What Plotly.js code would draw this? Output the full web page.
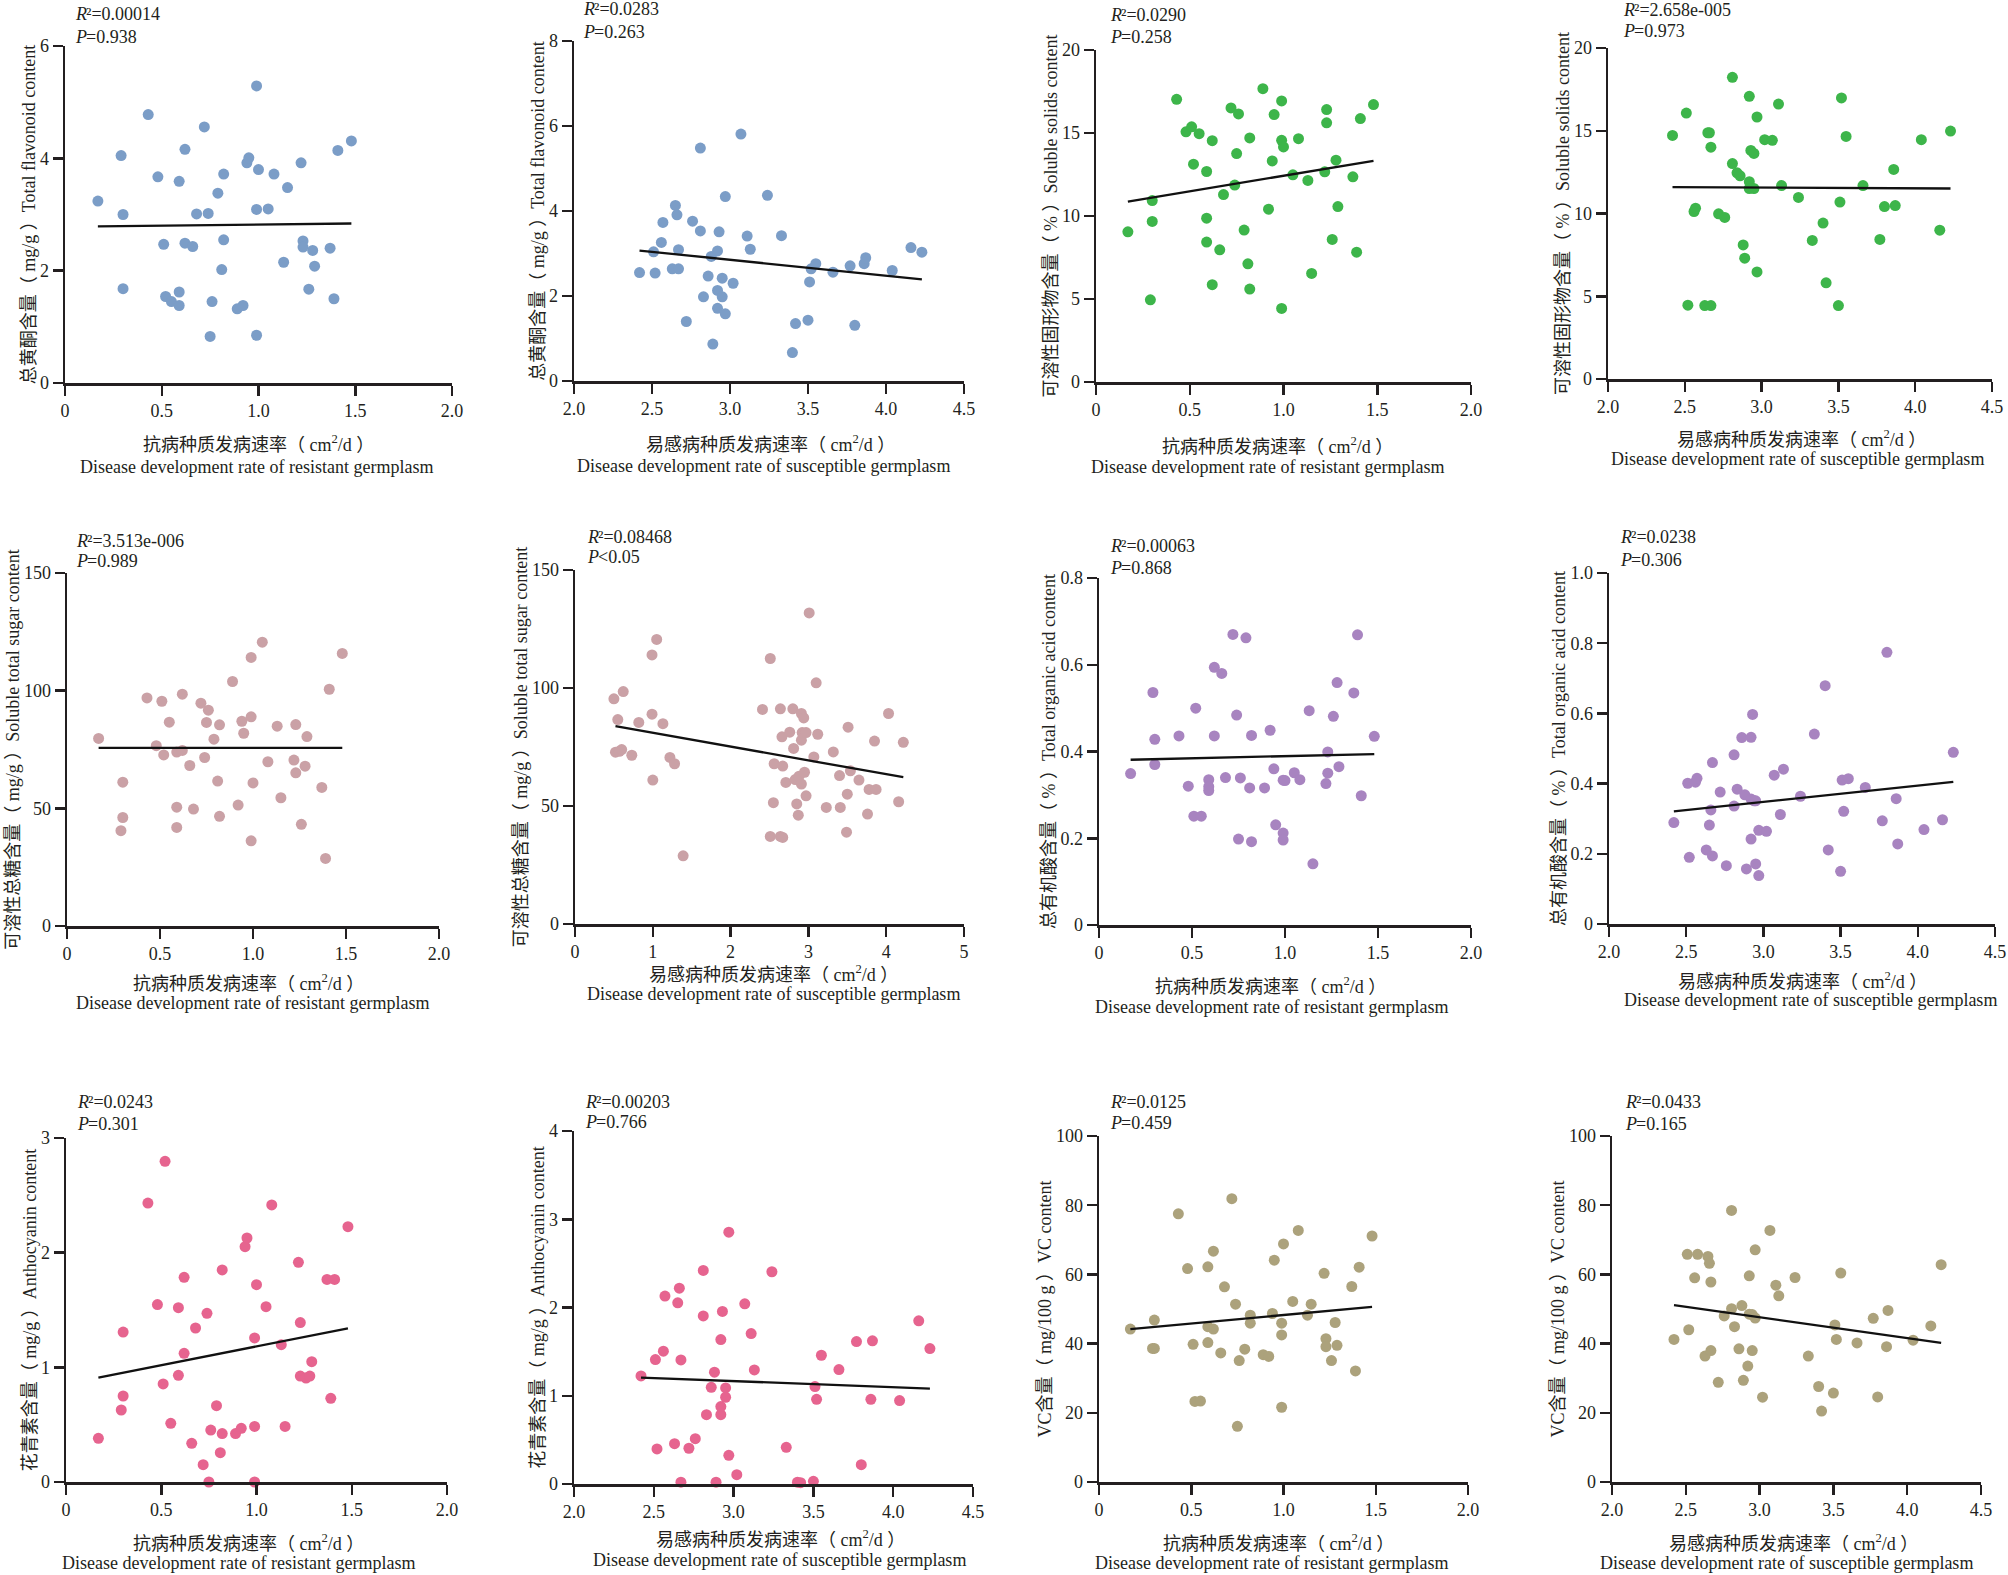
<!DOCTYPE html>
<html><head><meta charset="utf-8">
<script src="https://cdn.plot.ly/plotly-3.0.1.min.js"></script>
<style>html,body{margin:0;padding:0;background:#fff}</style>
</head><body><div id="chart" style="width:2008px;height:1575px"></div>
<script>
// ---------- data ----------
const resistTicks = [0, 0.5, 1, 1.5, 2];
const resistTickText = ["0", "0.5", "1.0", "1.5", "2.0"];
const suscTicks = [2, 2.5, 3, 3.5, 4, 4.5];
const suscTickText = ["2.0", "2.5", "3.0", "3.5", "4.0", "4.5"];
const sugarSuscTicks = [0, 1, 2, 3, 4, 5];
const sugarSuscTickText = ["0", "1", "2", "3", "4", "5"];

const flavTicks = [0, 2, 4, 6];
const flavSuscTicks = [0, 2, 4, 6, 8];
const solidTicks = [0, 5, 10, 15, 20];
const sugarTicks = [0, 50, 100, 150];
const acidTicks = [0, 0.2, 0.4, 0.6, 0.8];
const acidTickText = ["0", "0.2", "0.4", "0.6", "0.8"];
const acidSuscTicks = [0, 0.2, 0.4, 0.6, 0.8, 1.0];
const acidSuscTickText = ["0", "0.2", "0.4", "0.6", "0.8", "1.0"];
const anthoTicks = [0, 1, 2, 3];
const anthoSuscTicks = [0, 1, 2, 3, 4];
const vcTicks = [0, 20, 40, 60, 80, 100];

// Panel 1: flavonoid vs resistant
const p1x = [0.17,0.29,0.30,0.30,0.43,0.48,0.51,0.52,0.55,0.59,0.59,0.59,0.62,0.62,0.66,0.68,0.72,0.74,0.76,0.75,0.79,0.81,0.82,0.82,0.89,0.92,0.94,0.95,0.99,0.99,0.99,1.00,1.05,1.08,1.13,1.15,1.22,1.23,1.23,1.26,1.28,1.29,1.37,1.39,1.41,1.48];
const p1y = [3.24,4.05,3.00,1.68,4.78,3.67,2.47,1.54,1.45,3.59,1.62,1.38,4.16,2.49,2.43,3.01,4.56,3.02,1.45,0.83,3.38,2.02,3.72,2.55,1.32,1.38,3.92,4.01,5.29,3.09,0.85,3.80,3.10,3.72,2.15,3.48,3.92,2.53,2.42,1.67,2.36,2.08,2.40,1.50,4.14,4.31];
const fit1x = [0.17, 1.48];
const fit1y = [2.79, 2.84];

// Panel 2: flavonoid vs susceptible
const p2x = [2.42,2.51,2.52,2.57,2.56,2.63,2.65,2.66,2.67,2.67,2.72,2.76,2.81,2.81,2.83,2.86,2.88,2.89,2.92,2.92,2.92,2.93,2.95,2.95,2.97,2.97,3.02,3.07,3.11,3.13,3.24,3.33,3.40,3.42,3.50,3.51,3.52,3.55,3.66,3.77,3.80,3.86,3.87,4.04,4.16,4.23];
const p2y = [2.55,3.04,2.54,3.73,3.26,2.64,4.13,3.91,3.09,2.64,1.40,3.76,5.48,3.53,1.98,2.47,2.93,0.87,3.06,2.13,1.71,3.51,2.42,1.98,4.34,1.58,2.30,5.81,3.41,3.10,4.37,3.42,0.67,1.35,1.43,2.33,2.64,2.76,2.56,2.71,1.31,2.76,2.90,2.60,3.14,3.03];
const fit2x = [2.42, 4.23];
const fit2y = [3.07, 2.39];

// Panel 3: soluble solids vs resistant
const p3x = [0.17,0.29,0.30,0.30,0.43,0.48,0.51,0.52,0.55,0.59,0.59,0.59,0.62,0.62,0.66,0.68,0.72,0.74,0.75,0.76,0.79,0.81,0.82,0.82,0.89,0.92,0.94,0.95,0.99,0.99,0.99,1.00,1.05,1.08,1.13,1.15,1.22,1.23,1.23,1.26,1.28,1.29,1.37,1.39,1.41,1.48];
const p3y = [9.05,4.95,10.93,9.67,17.03,15.07,15.37,13.12,14.96,12.68,9.87,8.43,14.54,5.86,7.96,11.29,16.51,11.86,13.76,16.15,9.15,7.12,14.70,5.60,17.67,10.41,13.32,16.11,16.93,14.56,4.43,14.16,12.48,14.66,12.14,6.54,12.66,16.41,15.61,8.59,13.36,10.57,12.36,7.82,15.87,16.71];
const fit3x = [0.17, 1.48];
const fit3y = [10.87, 13.32];

// Panel 4: soluble solids vs susceptible
const p4x = [2.42,2.51,2.52,2.56,2.57,2.63,2.65,2.66,2.67,2.67,2.72,2.76,2.81,2.81,2.84,2.86,2.88,2.89,2.92,2.92,2.92,2.93,2.95,2.95,2.97,2.97,3.02,3.07,3.11,3.13,3.24,3.33,3.40,3.42,3.50,3.51,3.52,3.55,3.66,3.77,3.80,3.86,3.87,4.04,4.16,4.23];
const p4y = [14.72,16.07,4.46,10.12,10.32,4.44,14.88,14.88,14.01,4.44,9.98,9.76,13.02,18.23,12.46,12.28,8.10,7.30,17.08,11.92,11.51,13.81,13.63,11.51,15.83,6.47,14.46,14.42,16.61,11.69,10.97,8.37,9.42,5.81,4.44,10.69,16.98,14.66,11.69,8.43,10.42,12.66,10.48,14.46,8.99,14.98];
const fit4x = [2.42, 4.23];
const fit4y = [11.59, 11.51];

// Panel 5: soluble total sugar vs resistant
const p5x = [0.17,0.29,0.30,0.30,0.43,0.48,0.51,0.52,0.55,0.59,0.59,0.59,0.62,0.62,0.66,0.68,0.72,0.74,0.75,0.76,0.79,0.81,0.82,0.82,0.89,0.92,0.94,0.95,0.99,0.99,0.99,1.00,1.05,1.08,1.13,1.15,1.22,1.23,1.23,1.26,1.28,1.29,1.37,1.39,1.41,1.48];
const p5y = [79.7,40.5,61.1,46.1,96.9,76.6,95.5,72.7,86.6,73.9,50.5,41.9,98.5,74.6,68.2,49.7,94.7,71.6,86.5,91.7,79.4,61.6,85.5,46.6,103.9,51.4,87.0,81.9,114.1,88.9,36.2,60.8,120.6,69.8,84.9,54.5,70.5,65.1,85.6,43.2,67.9,80.5,58.9,28.7,100.6,115.8];
const fit5x = [0.17, 1.48];
const fit5y = [75.7, 75.7];

// Panel 6: soluble total sugar vs susceptible
const p6x = [0.50,0.52,0.55,0.57,0.60,0.62,0.73,0.82,0.99,0.99,1.00,1.05,1.13,1.22,1.28,1.39,2.41,2.51,2.55,2.56,2.51,2.64,2.64,2.66,2.67,2.67,2.71,2.76,2.80,2.81,2.83,2.85,2.87,2.88,2.91,2.91,2.91,2.92,2.94,2.95,2.97,2.97,3.01,3.07,3.10,3.12,3.23,3.32,3.40,3.41,3.49,3.50,3.51,3.54,3.65,3.78,3.76,3.85,3.87,4.03,4.16,4.22];
const p6y = [95.4,72.8,86.6,73.2,73.9,98.5,71.5,85.4,114.0,88.9,61.0,120.6,84.9,70.6,67.9,28.9,90.9,112.5,51.4,67.9,37.1,37.1,91.2,79.3,66.9,36.7,60.0,81.3,91.2,74.4,61.2,50.9,46.1,62.6,89.2,77.9,59.3,81.1,87.3,64.3,54.3,81.1,131.8,70.8,102.2,80.4,49.4,72.9,62.9,49.4,38.9,55.0,83.4,64.9,61.0,57.0,46.6,77.5,57.0,89.2,51.8,77.0];
const fit6x = [0.52, 4.22];
const fit6y = [83.8, 62.2];

// Panel 7: total organic acid vs resistant
const p7x = [0.17,0.29,0.30,0.30,0.43,0.48,0.51,0.52,0.55,0.59,0.59,0.59,0.62,0.62,0.66,0.68,0.72,0.74,0.76,0.75,0.79,0.81,0.82,0.82,0.89,0.92,0.94,0.95,0.99,0.99,0.99,1.00,1.05,1.08,1.13,1.15,1.22,1.23,1.23,1.26,1.28,1.29,1.37,1.39,1.41,1.48];
const p7y = [0.349,0.536,0.428,0.370,0.436,0.320,0.251,0.500,0.251,0.335,0.319,0.310,0.594,0.436,0.580,0.340,0.670,0.484,0.339,0.198,0.662,0.316,0.437,0.192,0.316,0.449,0.360,0.231,0.334,0.212,0.196,0.333,0.351,0.335,0.494,0.141,0.326,0.350,0.399,0.481,0.559,0.365,0.535,0.669,0.298,0.435];
const fit7x = [0.17, 1.48];
const fit7y = [0.381, 0.394];

// Panel 8: total organic acid vs susceptible
const p8x = [2.42,2.51,2.52,2.56,2.57,2.63,2.65,2.66,2.67,2.67,2.72,2.76,2.81,2.81,2.83,2.86,2.88,2.89,2.92,2.92,2.92,2.93,2.94,2.95,2.95,2.97,2.97,3.02,3.07,3.11,3.13,3.24,3.33,3.40,3.42,3.50,3.51,3.52,3.55,3.66,3.77,3.80,3.86,3.87,4.04,4.16,4.23];
const p8y = [0.289,0.401,0.190,0.404,0.415,0.211,0.282,0.325,0.460,0.194,0.376,0.166,0.482,0.336,0.384,0.531,0.368,0.157,0.242,0.356,0.532,0.597,0.351,0.351,0.171,0.267,0.138,0.264,0.424,0.312,0.441,0.364,0.541,0.679,0.211,0.150,0.410,0.321,0.414,0.389,0.294,0.774,0.357,0.228,0.269,0.297,0.489];
const fit8x = [2.42, 4.23];
const fit8y = [0.321, 0.405];

// Panel 9: anthocyanin vs resistant
const p9x = [0.17,0.29,0.30,0.30,0.43,0.48,0.51,0.52,0.55,0.59,0.59,0.62,0.62,0.66,0.68,0.72,0.74,0.75,0.76,0.79,0.81,0.82,0.82,0.89,0.92,0.94,0.95,0.99,0.99,0.99,1.00,1.05,1.08,1.13,1.15,1.22,1.23,1.23,1.26,1.28,1.29,1.37,1.39,1.41,1.48];
const p9y = [0.381,0.628,0.750,1.308,2.433,1.547,0.855,2.797,0.512,1.520,0.930,1.785,1.122,0.337,1.343,0.151,1.471,0.0,0.453,0.666,0.256,1.849,0.422,0.422,0.468,2.052,2.128,1.256,0.485,0.0,1.721,1.529,2.416,1.198,0.485,1.916,1.390,0.924,0.907,0.924,1.049,1.767,0.730,1.767,2.227];
const fit9x = [0.17, 1.48];
const fit9y = [0.91, 1.34];

// Panel 10: anthocyanin vs susceptible
const p10x = [2.42,2.51,2.52,2.56,2.57,2.63,2.65,2.66,2.67,2.67,2.72,2.76,2.81,2.81,2.83,2.86,2.88,2.89,2.92,2.92,2.92,2.93,2.95,2.95,2.97,2.97,3.02,3.07,3.11,3.13,3.24,3.33,3.40,3.42,3.50,3.51,3.52,3.55,3.66,3.77,3.80,3.86,3.87,4.04,4.16,4.23];
const p10y = [1.225,1.410,0.397,1.505,2.129,0.457,2.053,2.219,1.406,0.02,0.405,0.514,2.420,1.905,0.786,1.096,1.267,0.02,1.637,0.786,0.877,1.955,1.089,0.983,2.854,0.325,0.106,2.042,1.705,1.293,2.405,0.416,0.02,0.015,0.03,1.104,0.960,1.459,1.297,1.614,0.219,0.960,1.622,0.945,1.849,1.535];
const fit10x = [2.42, 4.23];
const fit10y = [1.206, 1.081];

// Panel 11: VC vs resistant
const p11x = [0.17,0.29,0.30,0.30,0.43,0.48,0.51,0.52,0.55,0.59,0.59,0.59,0.62,0.62,0.66,0.68,0.72,0.74,0.75,0.76,0.79,0.82,0.82,0.89,0.92,0.94,0.95,0.99,0.99,0.99,1.00,1.05,1.08,1.13,1.15,1.22,1.23,1.23,1.26,1.28,1.29,1.37,1.39,1.41,1.48];
const p11y = [44.2,38.6,38.6,46.8,77.5,61.7,39.8,23.3,23.4,62.2,44.9,40.3,66.7,44.2,37.3,56.4,81.9,51.4,16.1,35.1,38.4,48.2,45.9,36.8,36.3,48.7,64.1,45.9,42.5,21.6,68.8,52.2,72.7,48.2,51.4,60.3,41.4,39.1,35.1,46.1,39.5,56.5,32.1,62.1,71.1];
const fit11x = [0.17, 1.48];
const fit11y = [44.2, 50.6];

// Panel 12: VC vs susceptible
const p12x = [2.42,2.51,2.52,2.56,2.58,2.63,2.65,2.66,2.67,2.67,2.72,2.76,2.81,2.81,2.83,2.86,2.88,2.89,2.92,2.93,2.93,2.95,2.95,2.97,2.97,3.02,3.07,3.11,3.13,3.24,3.33,3.40,3.42,3.50,3.51,3.52,3.55,3.66,3.77,3.80,3.86,3.87,4.04,4.16,4.23];
const p12y = [41.2,65.8,44.0,59.0,65.8,36.4,65.2,63.2,57.8,38.0,28.8,48.0,78.5,50.1,44.9,38.5,51.0,29.4,33.5,48.5,59.6,48.4,38.0,47.4,67.1,24.5,72.7,56.9,53.8,59.1,36.4,27.6,20.5,25.7,45.4,41.2,60.4,40.2,47.3,24.6,39.1,49.6,41.0,45.1,62.8];
const fit12x = [2.42, 4.23];
const fit12y = [51.1, 40.2];

// statistics labels
const r2Labels = ["²=0.00014","²=0.0283","²=0.0290","²=2.658e-005","²=3.513e-006","²=0.08468","²=0.00063","²=0.0238","²=0.0243","²=0.00203","²=0.0125","²=0.0433"];
const pLabels = ["=0.938","=0.263","=0.258","=0.973","=0.989","&lt;0.05","=0.868","=0.306","=0.301","=0.766","=0.459","=0.165"];

// axis titles
const yTitles = [
  "总黄酮含量（ mg/g ）Total flavonoid content",
  "可溶性固形物含量（ % ）Soluble solids content",
  "可溶性总糖含量（ mg/g ）Soluble total sugar content",
  "总有机酸含量（ % ）Total organic acid content",
  "花青素含量（ mg/g ）Anthocyanin content",
  "VC含量（ mg/100 g ）VC content"
];
const xTitleResistCN = "抗病种质发病速率（ cm<sup>2</sup>/d ）";
const xTitleResistEN = "Disease development rate of resistant germplasm";
const xTitleSuscCN = "易感病种质发病速率（ cm<sup>2</sup>/d ）";
const xTitleSuscEN = "Disease development rate of susceptible germplasm";

// ---------- presentation ----------
const W = 2008, H = 1575;
const FONT = "'Liberation Serif', 'Times New Roman', 'Noto Sans CJK SC', serif";
const INK = "#231f20";
const colors = ["#7b9dc7", "#3db54a", "#caa1a6", "#a884c0", "#e6648f", "#aca27c"];
const ITALIC_W = 11; // advance of an italic R / P at 18px

// pixel boxes [left, right, top, bottom]; stat labels [x, yR2, yP]; x-title centres [xCN, yCN, xEN, yEN]
const geom = [
  {box:[65,452,46,383],      stat:[73,14,37],       xt:[258,443,256,467]},
  {box:[574,964,41,381],     stat:[581,9,32],       xt:[770,443,763,466]},
  {box:[1096,1471,50,382],   stat:[1108,15,37],     xt:[1277,445,1267,467]},
  {box:[1608,1992,48,379],   stat:[1621,10,31],     xt:[1801,438,1797,459]},
  {box:[67,439,573,926],     stat:[74,541,561],     xt:[248,983,252,1003]},
  {box:[575,964,570,924],    stat:[585,537,557],    xt:[773,973,773,994]},
  {box:[1099,1471,578,925],  stat:[1108,546,568],   xt:[1270,985,1271,1007]},
  {box:[1609,1995,573,924],  stat:[1618,537,560],   xt:[1802,980,1810,1000]},
  {box:[66,447,1138,1482],   stat:[75,1102,1124],   xt:[248,1542,238,1563]},
  {box:[574,973,1131,1484],  stat:[583,1102,1122],  xt:[780,1538,779,1560]},
  {box:[1099,1468,1136,1482],stat:[1108,1102,1123], xt:[1278,1542,1271,1563]},
  {box:[1612,1981,1136,1482],stat:[1623,1102,1124], xt:[1793,1542,1786,1563]}
];

const panels = [
  {x:p1x,  y:p1y,  fx:fit1x,  fy:fit1y,  xr:[0,2],   xt:resistTicks, xtt:resistTickText, yr:[0,6],   yt:flavTicks,     ytt:flavTicks.map(String)},
  {x:p2x,  y:p2y,  fx:fit2x,  fy:fit2y,  xr:[2,4.5], xt:suscTicks,   xtt:suscTickText,   yr:[0,8],   yt:flavSuscTicks, ytt:flavSuscTicks.map(String)},
  {x:p3x,  y:p3y,  fx:fit3x,  fy:fit3y,  xr:[0,2],   xt:resistTicks, xtt:resistTickText, yr:[0,20],  yt:solidTicks,    ytt:solidTicks.map(String)},
  {x:p4x,  y:p4y,  fx:fit4x,  fy:fit4y,  xr:[2,4.5], xt:suscTicks,   xtt:suscTickText,   yr:[0,20],  yt:solidTicks,    ytt:solidTicks.map(String)},
  {x:p5x,  y:p5y,  fx:fit5x,  fy:fit5y,  xr:[0,2],   xt:resistTicks, xtt:resistTickText, yr:[0,150], yt:sugarTicks,    ytt:sugarTicks.map(String)},
  {x:p6x,  y:p6y,  fx:fit6x,  fy:fit6y,  xr:[0,5],   xt:sugarSuscTicks, xtt:sugarSuscTickText, yr:[0,150], yt:sugarTicks, ytt:sugarTicks.map(String)},
  {x:p7x,  y:p7y,  fx:fit7x,  fy:fit7y,  xr:[0,2],   xt:resistTicks, xtt:resistTickText, yr:[0,0.8], yt:acidTicks,     ytt:acidTickText},
  {x:p8x,  y:p8y,  fx:fit8x,  fy:fit8y,  xr:[2,4.5], xt:suscTicks,   xtt:suscTickText,   yr:[0,1.0], yt:acidSuscTicks, ytt:acidSuscTickText},
  {x:p9x,  y:p9y,  fx:fit9x,  fy:fit9y,  xr:[0,2],   xt:resistTicks, xtt:resistTickText, yr:[0,3],   yt:anthoTicks,    ytt:anthoTicks.map(String)},
  {x:p10x, y:p10y, fx:fit10x, fy:fit10y, xr:[2,4.5], xt:suscTicks,   xtt:suscTickText,   yr:[0,4],   yt:anthoSuscTicks,ytt:anthoSuscTicks.map(String)},
  {x:p11x, y:p11y, fx:fit11x, fy:fit11y, xr:[0,2],   xt:resistTicks, xtt:resistTickText, yr:[0,100], yt:vcTicks,       ytt:vcTicks.map(String)},
  {x:p12x, y:p12y, fx:fit12x, fy:fit12y, xr:[2,4.5], xt:suscTicks,   xtt:suscTickText,   yr:[0,100], yt:vcTicks,       ytt:vcTicks.map(String)}
];

const traces = [];
const layout = {
  width: W, height: H,
  margin: {l:0, r:0, t:0, b:0},
  paper_bgcolor: "#fff", plot_bgcolor: "#fff",
  showlegend: false,
  font: {family: FONT, size: 18, color: INK},
  annotations: []
};

function axisBase() {
  return {
    showgrid: false, zeroline: false, showline: true,
    linecolor: INK, linewidth: 2.5,
    ticks: "outside", ticklen: 10, tickwidth: 2.5, tickcolor: INK,
    tickfont: {family: FONT, size: 18, color: INK},
    tickmode: "array", fixedrange: true, automargin: false
  };
}

panels.forEach((p, i) => {
  const s = i === 0 ? "" : String(i + 1);
  const g = geom[i];
  const [l, r, t, b] = g.box;
  const color = colors[Math.floor(i / 2)];
  const resist = (i % 2 === 0);
  traces.push({
    type: "scatter", mode: "markers", x: p.x, y: p.y,
    xaxis: "x" + s, yaxis: "y" + s, cliponaxis: false,
    marker: {size: 11, color: color, line: {width: 0}},
    hoverinfo: "x+y"
  });
  traces.push({
    type: "scatter", mode: "lines", x: p.fx, y: p.fy,
    xaxis: "x" + s, yaxis: "y" + s, cliponaxis: false,
    line: {color: "#111", width: 2.3}, hoverinfo: "skip"
  });
  layout["xaxis" + s] = Object.assign(axisBase(), {
    domain: [l / W, r / W], anchor: "y" + s, range: p.xr,
    tickvals: p.xt, ticktext: p.xtt
  });
  layout["yaxis" + s] = Object.assign(axisBase(), {
    domain: [1 - b / H, 1 - t / H], anchor: "x" + s, range: p.yr,
    tickvals: p.yt, ticktext: p.ytt,
    title: {text: yTitles[Math.floor(i / 2)], standoff: 0,
            font: {family: FONT, size: 18, color: INK}}
  });
  const ann = (txt, px, py, anchor, style) => ({
    text: txt, xref: "paper", yref: "paper", x: px / W, y: 1 - py / H,
    showarrow: false, xanchor: anchor, yanchor: "middle",
    font: {family: FONT, size: 18, color: INK, style: style || "normal"}
  });
  layout.annotations.push(ann("R", g.stat[0], g.stat[1], "left", "italic"));
  layout.annotations.push(ann(r2Labels[i], g.stat[0] + ITALIC_W, g.stat[1], "left"));
  layout.annotations.push(ann("P", g.stat[0], g.stat[2], "left", "italic"));
  layout.annotations.push(ann(pLabels[i], g.stat[0] + ITALIC_W, g.stat[2], "left"));
  layout.annotations.push(ann(resist ? xTitleResistCN : xTitleSuscCN, g.xt[0], g.xt[1], "center"));
  layout.annotations.push(ann(resist ? xTitleResistEN : xTitleSuscEN, g.xt[2], g.xt[3], "center"));
});

Plotly.newPlot("chart", traces, layout, {displayModeBar: false, staticPlot: true});
</script>
</body></html>
